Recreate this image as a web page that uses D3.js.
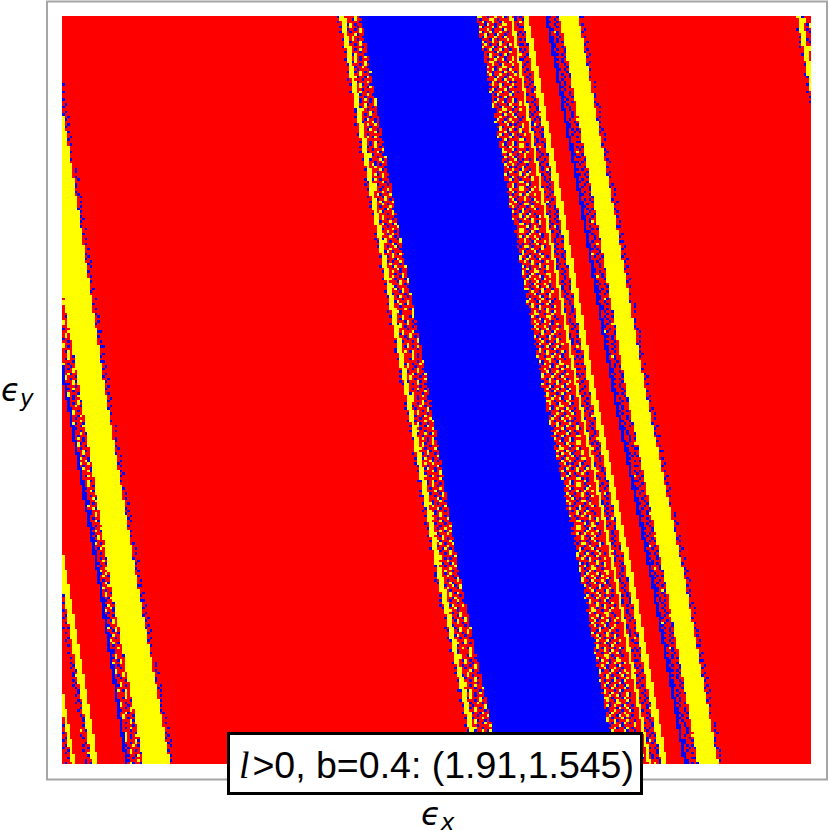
<!DOCTYPE html>
<html><head><meta charset="utf-8">
<script src="https://cdnjs.cloudflare.com/ajax/libs/d3/7.8.5/d3.min.js"></script>
<style>html,body{margin:0;padding:0;background:#fff}svg{display:block}</style></head>
<body><svg id="c" width="830" height="835"></svg>
<script>
// Boundaries, in axis units (0-250 across the plot), at these heights
const rowLevels = [0, 62.5, 125, 187.5, 250];

const colours = {r:"#ff0000", y:"#ffff00", b:"#0000ff"};

// Texture tiles read by eye from the speckled zones
const tileMixed = [
"rryrbrrrbryrrbrrryrrbrr","rbyrrrybrryrbrryrrbrryr","rrrrbryrrbrrryrbryrrbyr","yrbrryrbrrrybrrryrbrrrb",
"yrrbrrrrybrrrbyrrrrbyrr","rrbryrbryrrbrryrbrrryrb","brrryrrrbrrrybrrrybrrrr","rrybrrbyrrbrryrbrrybryr",
"ryrrrbrrrybrbrrryrrrbyr","ryrbrrryrryrrrbyrbrrrrb","brrrybrrbrrrybrrryrbyrr","rrbryrrbyrrbrrrbryrrrbr",
"yrrrrbrrrrybryrrrrbyrrr","yrbryrrbrrrrryrbrbrryrb","rrrrbrryrbyrbrrryrrrbrr","rbyrrrbrrrrrrybrrbyrrry",
"rryrbryrbrybrrrbrrrybrr"];
const tileDense = [
"yrbrryyrrbrryrrybrrybry","yrrbyrbrrryyrbrrrbyrrry","rrbyrrrybrryrrbyrrrybrr","bryrryrrbyrrbrryyrrbrry",
"ryrbrrybrrrybryrrbyrrbr","ryrrbyrrryrbrrrbyrrybrr","brrbrrybrrybrryrrbrrybr","ryyrbrrrybrrbyrrbryrrrb",
"rrbryrrbyrrryrrbyrryrbr","ybrrrybrrrbyrbrrrybrbrr","yrrbrrrybrryrrybrrryrrb","rrbyrbrryrbrrbyrrbyrbry",
"bryrrrbyrrrybrrrybrrrry","ryrbyrrrbrybrrybrrbyrbr","rrrryrbyrrrrbyrrrrybrrb","ybrbrrryrbyrrrbrybrrrry",
"rrybryrbrryrbyrrbrrybrr"];
const tileBlue = [
"rbrrbrryrbrbrrbrrbrrbrb","brrbrrbrrrbrrbrrrbrrbrr","rrbrrbrbrrrbrrbrbrrbrry","rbrrbrrrbrbrrbrrrbrrrbr",
"brrrbyrbrrrbrrbrbrrbrrb","rrbrrrbrrbrrbrrrbrrbrrr","rbrrbrrrbrrbrybrrbrrbrb","brrrrbrbrrbrrrbrrrbrrbr",
"rrbrbrrrbrrrbrrbrbrrbrr","rbrrrbrrbrybrrbrrrbrrrb","rrrbrrbrrrbrrrbrbrrbrrr","brbrrrbrbrrbrbrrrbrbrrb",
"rrrbrbrrrbrrrbrrbrrrbrr"];
const tileDots = [
"brrbrrrbrrbrrrbb","rrbrrbrrrbrrbrrr","rbrrrbrbrrrbrrbr","brrbrrrrbrbrrbrr","rrbrrbrbrrrbrrrb","rbrrrrbrrbrrrbrr"];

// Band edges (left, right) at rowLevels
// centre group
const dotsA    = [[91.7,102.3,113.3,124.3,137],[92.7,103.3,114.3,125.3,138]];
const yellowA  = [[92.7,103.3,114.3,125.3,138],[94.3,104.9,115.9,126.9,139.6]];
const speckleA = [[94.3,104.9,115.9,126.9,139.6],[99.7,110.7,122.3,132.7,146]];
const blueMain = [[99.7,110.7,122.3,132.7,146],[138.3,149.3,160.6,173.3,184.6]];
// right group
const speckleB = [[138.3,149.3,160.6,173.3,184.6],[148,159,170.3,183,194.3]];
const yellowD  = [[149.3,160.3,171.6,184.3,195.6],[150.3,161.3,172.6,185.3,196.6]];
const dotsD    = [[150.3,161.3,172.6,185.3,196.6],[153.7,165.2,176,188.7,200]];
const yellowC  = [[153.7,165.2,176,188.7,200],[155.7,167.2,178,190.7,202]];
const blueLine = [[161.3,172.8,183.6,196.3,207.6],[162.3,173.8,184.6,197.3,208.6]];
const speckleE = [[162.3,173.8,184.6,197.3,208.6],[166,177.5,188.3,201,212.3]];
const yellowBig= [[166,177.5,188.3,201,212.3],[172.3,183.8,194.7,207.7,219]];
const dotsBig  = [[172.3,183.8,194.7,207.7,219],[174,185.5,196.4,209.4,220.7]];
// top right corner
const dotsTR   = [[244.4,255,265.7,276.7,288],[245.3,256,266.7,277.7,289]];
const yellowTR = [[245.3,256,266.7,277.7,289],[247,258,268.7,279.7,291]];
const speckleTR= [[247,258,268.7,279.7,291],[252,263,274,285,296]];
// left group
const blueLeft = [[-19.3,-9.3,0.7,11.7,21],[-18.3,-8.3,1.7,12.7,22]];
const speckleL = [[-18.3,-8.3,1.7,12.7,22],[-14.7,-5,5.7,15.7,27]];
const yellowL  = [[-14.7,-5,5.7,15.7,27],[-4.7,5,14.3,24.7,36]];
const dotsL    = [[-4.7,5,14.3,24.7,36],[-3,6.7,16,26.4,37.7]];
// lower left corner
const speckleT = [[-32.5,-22.5,-12.7,-2.4,7.8],[-31,-21,-10.7,-0.5,9.8]];
const yellowT  = [[-31,-21,-10.7,-0.5,9.8],[-29,-19,-8.7,1.7,12]];
const dotsU    = [[-41,-31,-20,-9,1],[-38.3,-28,-17.6,-7.3,3]];
const yellowU  = [[-38.3,-28,-17.6,-7.3,3],[-37,-26.6,-16.3,-6,4.3]];

const bands = [
  [dotsA,tileDots],[yellowA,"y"],[speckleA,tileMixed],[blueMain,"b"],
  [speckleB,tileDense],[yellowD,"y"],[dotsD,tileBlue],[yellowC,"y"],
  [blueLine,"b"],[speckleE,tileBlue],[yellowBig,"y"],[dotsBig,tileDots],
  [dotsTR,tileDots],[yellowTR,"y"],[speckleTR,tileMixed],
  [blueLeft,"b"],[speckleL,tileMixed],[yellowL,"y"],[dotsL,tileDots],
  [speckleT,tileBlue],[yellowT,"y"],[dotsU,tileBlue],[yellowU,"y"]
];

const legendParts = ["l", ">0, b=0.4: (1.91,1.545)"];
const xTitle = ["\u03F5","x"], yTitle = ["\u03F5","y"];

const N = 300;
const x = d3.scaleLinear([0,250],[62.3,811]);
const y = d3.scaleLinear([0,250],[16,764]);
const unit = d3.scaleLinear([0,N],[0,250]);
const svg = d3.select("#c");

svg.append("rect").attr("x",47).attr("y",1.5).attr("width",780).attr("height",778)
  .attr("fill","#fff").attr("stroke","#a6a6a6").attr("stroke-width",2);

const defs=svg.append("defs");
defs.append("filter").attr("id","soft").attr("x","-1%").attr("y","-1%").attr("width","102%").attr("height","102%")
  .append("feGaussianBlur").attr("stdDeviation",0.4);

const edges = bands.map(([e,t])=>({
  l:d3.scaleLinear(rowLevels,e[0]), r:d3.scaleLinear(rowLevels,e[1]), t}));

const runs=[];
for(let row=0;row<N;row++){
  const line=new Array(N).fill("r");
  const v=unit(row+.5);
  for(const b of edges){
    const a=b.l(v), c=b.r(v);
    for(let col=0;col<N;col++){
      const u=unit(col+.5);
      if(u>=a&&u<c) line[col]= typeof b.t==="string" ? b.t : (s=>s[col%s.length])(b.t[row%b.t.length]);
    }
  }
  let s=0;
  for(let col=1;col<=N;col++){
    if(col===N||line[col]!==line[s]){runs.push({row,s,e:col,k:line[s]});s=col;}
  }
}
svg.append("g").attr("filter","url(#soft)").attr("shape-rendering","crispEdges")
  .selectAll("rect").data(runs).join("rect")
  .attr("x",d=>x(unit(d.s))).attr("y",d=>y(unit(d.row)))
  .attr("width",d=>x(unit(d.e))-x(unit(d.s))).attr("height",d=>y(unit(d.row+1))-y(unit(d.row)))
  .attr("fill",d=>colours[d.k]);

// legend
svg.append("rect").attr("x",228.5).attr("y",733.5).attr("width",413).attr("height",60)
  .attr("fill","#fff").attr("stroke","#000").attr("stroke-width",3);
const t=svg.append("text").attr("x",239).attr("y",778).attr("font-size",37.5)
  .attr("font-family","'Liberation Sans',Arial,sans-serif").attr("fill","#000");
t.append("tspan").attr("font-style","italic").attr("font-family","'Liberation Serif',serif").text(legendParts[0]);
t.append("tspan").attr("dx",3).text(legendParts[1]);

function title(parts,px,py,fs){
  const g=svg.append("text").attr("x",px).attr("y",py).attr("font-family","'DejaVu Sans',sans-serif")
    .attr("font-style","italic").attr("font-size",fs).attr("fill","#000");
  g.append("tspan").text(parts[0]);
  g.append("tspan").attr("dy",5).attr("font-size",23).text(parts[1]);
}
title(xTitle,421,825,32);
title(yTitle,1,401,31);
</script></body></html>
